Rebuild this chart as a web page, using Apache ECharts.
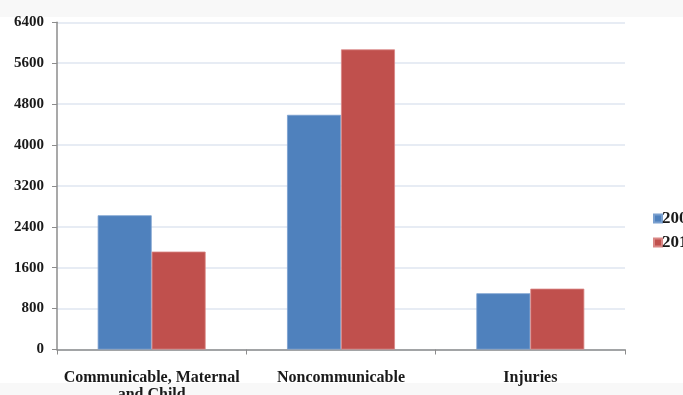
<!DOCTYPE html>
<html>
<head>
<meta charset="utf-8">
<script src="https://cdn.jsdelivr.net/npm/echarts@6/dist/echarts.min.js"></script>
<style>
  html, body { margin: 0; padding: 0; background: #f8f8f8; }
  #chart { width: 683px; height: 395px; }
</style>
</head>
<body>
<div id="chart"></div>
<script>
// Deaths by broad cause group, two survey years
const categories = ['Communicable, Maternal\nand Child', 'Noncommunicable', 'Injuries'];
const seriesNames = ['2000', '2012'];
const values2000 = [2625, 4590, 1100];
const values2012 = [1915, 5870, 1190];
const yTicks = { min: 0, max: 6400, interval: 800 };

const serif = '"Liberation Serif", "DejaVu Serif", serif';
const chart = echarts.init(document.getElementById('chart'));

chart.setOption({
  backgroundColor: '#f8f8f8',
  animation: false,
  graphic: [{
    type: 'rect',
    z: -10,
    silent: true,
    shape: { x: 0, y: 17, width: 683, height: 366 },
    style: { fill: '#ffffff' }
  }],
  grid: {
    left: 57, right: 58, top: 22.3, bottom: 45.5,
    containLabel: false, outerBoundsMode: 'none'
  },
  legend: {
    orient: 'vertical',
    left: 648,
    top: 205,
    itemWidth: 8,
    itemHeight: 8,
    itemGap: 7,
    icon: 'rect',
    textStyle: { fontFamily: serif, fontWeight: 'bold', fontSize: 17, color: '#1a1a1a', padding: [0, 0, 0, -5] },
    data: seriesNames
  },
  xAxis: {
    type: 'category',
    data: categories,
    axisLine: { lineStyle: { color: '#8c8c8c', width: 1.5 } },
    axisTick: { show: true, length: 5, alignWithLabel: false, lineStyle: { color: '#8c8c8c' } },
    axisLabel: {
      fontFamily: serif, fontWeight: 'bold', fontSize: 16, color: '#1a1a1a',
      margin: 20, lineHeight: 17, interval: 0
    },
    splitLine: { show: false }
  },
  yAxis: {
    type: 'value',
    min: yTicks.min,
    max: yTicks.max,
    interval: yTicks.interval,
    axisLine: { show: true, lineStyle: { color: '#8c8c8c', width: 1.5 } },
    axisTick: { show: true, length: 5, lineStyle: { color: '#8c8c8c' } },
    axisLabel: {
      fontFamily: serif, fontWeight: 'bold', fontSize: 15, color: '#1a1a1a', margin: 13,
      formatter: v => String(v)
    },
    splitLine: { lineStyle: { color: '#dfe6f1', width: 1.5 } }
  },
  series: [
    {
      name: seriesNames[0],
      type: 'bar',
      data: values2000,
      barGap: '0%',
      barCategoryGap: '43%',
      itemStyle: { color: '#4f81bd', borderColor: '#7aa0cf', borderWidth: 0.8 }
    },
    {
      name: seriesNames[1],
      type: 'bar',
      data: values2012,
      barGap: '0%',
      barCategoryGap: '43%',
      itemStyle: { color: '#c0504d', borderColor: '#d98785', borderWidth: 0.8 }
    }
  ]
});
</script>
</body>
</html>
